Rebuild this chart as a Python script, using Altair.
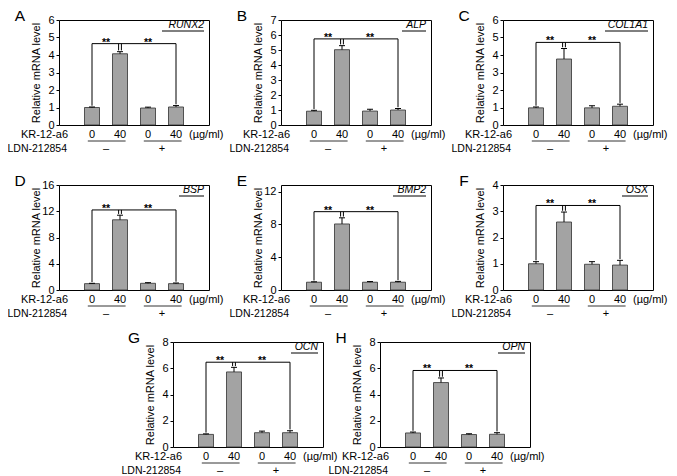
import altair as alt
import pandas as pd

LETTERS = ["A", "B", "C", "D", "E", "F", "G", "H"]
GENES = ["RUNX2", "ALP", "COL1A1", "BSP", "BMP2", "OSX", "OCN", "OPN"]
MEANS = [
    [1.00, 4.07, 0.97, 1.03],
    [0.92, 5.02, 0.93, 1.00],
    [0.98, 3.77, 0.98, 1.07],
    [0.97, 10.7, 1.02, 0.97],
    [0.95, 8.05, 0.95, 0.95],
    [1.00, 2.59, 0.98, 0.95],
    [0.96, 5.72, 1.09, 1.09],
    [1.07, 4.91, 0.95, 0.97],
]
ERRS = [
    [0.03, 0.12, 0.05, 0.08],
    [0.06, 0.27, 0.12, 0.10],
    [0.05, 0.60, 0.12, 0.12],
    [0.05, 0.70, 0.10, 0.10],
    [0.05, 0.75, 0.08, 0.10],
    [0.08, 0.38, 0.10, 0.18],
    [0.04, 0.35, 0.12, 0.15],
    [0.07, 0.35, 0.06, 0.12],
]
YMAX = [6, 7, 6, 16, 12.8, 4, 8, 8]
YTICKS = [
    [0, 1, 2, 3, 4, 5, 6],
    [0, 1, 2, 3, 4, 5, 6, 7],
    [0, 1, 2, 3, 4, 5, 6],
    [0, 4, 8, 12, 16],
    [0, 4, 8, 12],
    [0, 1, 2, 3, 4],
    [0, 2, 4, 6, 8],
    [0, 2, 4, 6, 8],
]
BRACKET = [4.65, 5.74, 4.72, 12.2, 9.55, 3.22, 6.46, 5.83]
DOSES = ["0", "40", "0", "40"]
LDN_SIGNS = ["\u2013", "+"]
DOSE_LABEL = "KR-12-a6"
UNIT_LABEL = "(\u00b5g/ml)"
LDN_LABEL = "LDN-212854"
YTITLE = "Relative mRNA level"

# style / layout parameters
W, H = 150, 105
FONT = "Liberation Sans"
FS = 11
UNDERLINE = {"RUNX2": 40, "ALP": 22, "COL1A1": 41, "BSP": 23, "BMP2": 31,
             "OSX": 24, "OCN": 25, "OPN": 25}


def fixed(text, x, y, align="center", size=FS, baseline="middle", **kw):
    return alt.Chart(pd.DataFrame({"lab": [text]})).mark_text(
        align=align, baseline=baseline, fontSize=size, fill="black", **kw
    ).encode(x=alt.value(x), y=alt.value(y), text="lab:N")


def panel(i):
    ymax = YMAX[i]
    df = pd.DataFrame({"pos": [1, 2, 3, 4], "mean": MEANS[i],
                       "err": ERRS[i], "dose": DOSES})
    df["top"] = df["mean"] + df["err"]
    xs = alt.Scale(domain=[0, 5], nice=False, zero=False)
    ys = alt.Scale(domain=[0, ymax], nice=False, zero=True)
    yaxis = alt.Axis(values=YTICKS[i], title=YTITLE, grid=False, domain=False,
                     ticks=True, tickSize=3, tickColor="black", labelPadding=2,
                     labelColor="black", labelFontSize=FS, titleFontSize=FS,
                     titleFontWeight="normal", titleColor="black",
                     titleX=-18, titleY=H / 2, titleAngle=270,
                     titleBaseline="bottom", titleAlign="center")

    def X(f):
        return alt.X(f, scale=xs, axis=None)

    def Y(f):
        return alt.Y(f, scale=ys, axis=yaxis)

    bars = alt.Chart(df).mark_bar(size=15, fill="#a3a3a3", stroke="#303030",
                                  strokeWidth=0.8).encode(
        x=X("pos:Q"), y=Y("mean:Q"))
    err = alt.Chart(df).mark_rule(stroke="black", strokeWidth=1).encode(
        x=X("pos:Q"), y=Y("mean:Q"), y2="top:Q")
    cap = alt.Chart(df).mark_tick(orient="horizontal", size=6, thickness=1,
                                  fill="black", opacity=1).encode(
        x=X("pos:Q"), y=Y("top:Q"))

    yb = BRACKET[i]
    tops = df["top"].tolist()
    g = ymax * 0.012
    segs = pd.DataFrame({
        "x": [1, 1, 1.95, 2.05, 4],
        "x2": [4, 1, 1.95, 2.05, 4],
        "y": [yb, yb, yb, yb, yb],
        "y2": [yb, tops[0] + g, tops[1] + g, tops[1] + g, tops[3] + g],
    })
    bracket = alt.Chart(segs).mark_rule(stroke="black", strokeWidth=1).encode(
        x=X("x:Q"), x2="x2:Q", y=Y("y:Q"), y2="y2:Q")
    stars = alt.Chart(pd.DataFrame({"sx": [1.5, 3.0], "sy": [yb, yb],
                                    "st": ["**", "**"]})).mark_text(
        baseline="alphabetic", dy=2, fontSize=10.5, fontWeight="bold",
        fill="black").encode(
        x=X("sx:Q"), y=Y("sy:Q"), text="st:N")

    gene = fixed(GENES[i], W - 5, 8, align="right", size=10.5,
                 baseline="alphabetic", fontStyle="italic")
    ul = UNDERLINE[GENES[i]]
    gene_ul = alt.Chart(pd.DataFrame({"a": [0]})).mark_rule(
        stroke="black", strokeWidth=1).encode(
        x=alt.value(W - 5 - ul - 2), x2=alt.value(W - 5), y=alt.value(11))
    letter = fixed(LETTERS[i], -39, -4, size=15.5)

    doses = alt.Chart(df).mark_text(baseline="middle", fontSize=FS,
                                    fill="black").encode(
        x=X("pos:Q"), y=alt.value(H + 10), text="dose:N")
    grp = pd.DataFrame({"gx": [0.85, 2.85], "gx2": [2.2, 4.2],
                        "mid": [1.5, 3.5], "s": LDN_SIGNS})
    grp_ul = alt.Chart(grp).mark_rule(stroke="black", strokeWidth=0.8).encode(
        x=X("gx:Q"), x2="gx2:Q", y=alt.value(H + 16))
    signs = alt.Chart(grp).mark_text(baseline="middle", fontSize=FS,
                                     fill="black").encode(
        x=X("mid:Q"), y=alt.value(H + 24), text="s:N")
    kr = fixed(DOSE_LABEL, 9, H + 10, align="right")
    unit = fixed(UNIT_LABEL, 130, H + 10, align="left")
    ldn = fixed(LDN_LABEL, 8, H + 24, align="right", size=10.5)

    return alt.layer(bars, err, cap, bracket, stars, gene, gene_ul, letter,
                     doses, grp_ul, signs, kr, unit, ldn).properties(
        width=W, height=H)


spacer = alt.Chart(pd.DataFrame({"a": [0]})).mark_point(opacity=0).encode(
    x=alt.value(0), y=alt.value(0)
).properties(width=57, height=H,
             view=alt.ViewBackground(stroke="transparent"))

row1 = alt.hconcat(panel(0), panel(1), panel(2), spacing=72, bounds="flush")
row2 = alt.hconcat(panel(3), panel(4), panel(5), spacing=72, bounds="flush")
row3 = alt.hconcat(spacer, panel(6), panel(7), spacing=57, bounds="flush")

top2 = alt.vconcat(row1, row2, spacing=18)
chart = alt.vconcat(top2, row3, spacing=10).properties(
    padding={"left": -2, "top": 0, "right": 0, "bottom": 0}
).configure(font=FONT).configure_view(
    stroke="black", strokeWidth=1
).configure_text(font=FONT).configure_axis(labelFont=FONT, titleFont=FONT)

chart.save("out.html", embed_options={"renderer": "svg", "actions": False})
